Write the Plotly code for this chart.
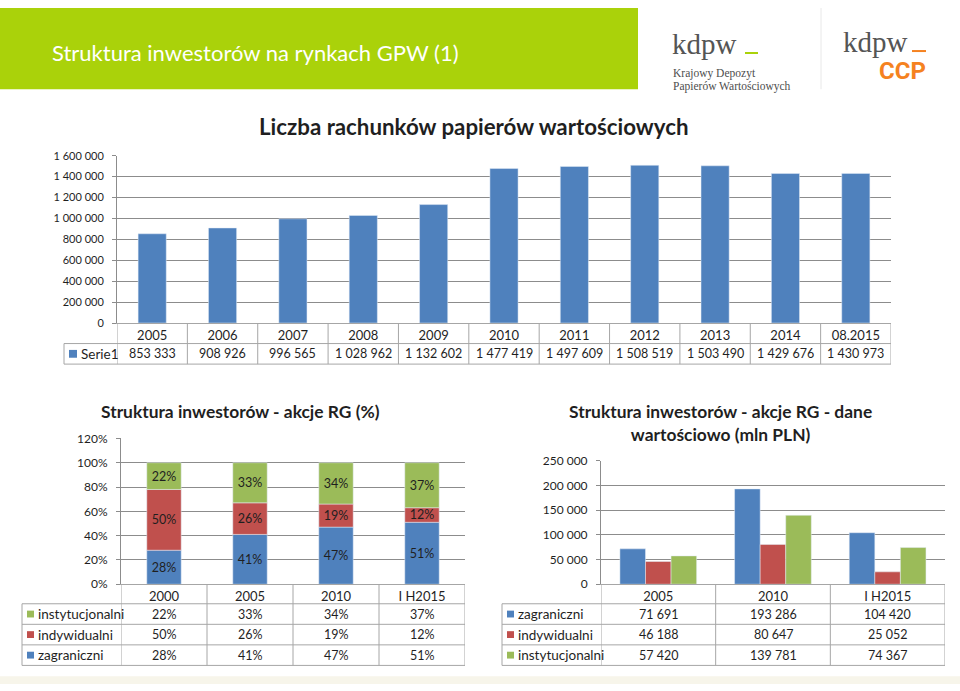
import plotly.graph_objects as go

W, H = 960, 691


def px(x):
    return x / W


def py(y):
    return 1 - y / H


BLUE = '#4F81BD'
RED = '#C0504D'
GREEN = '#9BBB59'
GRID = '#8C8C8C'
BORDER = '#A6A6A6'
TXT = '#1F1F1F'
FONT = 'Lato, Carlito, Calibri, sans-serif'

# Liczba rachunków papierów wartościowych
years = ['2005', '2006', '2007', '2008', '2009', '2010', '2011', '2012', '2013', '2014', '08.2015']
accounts = [853333, 908926, 996565, 1028962, 1132602, 1477419, 1497609, 1508519, 1503490, 1429676, 1430973]

# Struktura inwestorów - akcje RG (%)
rg_years = ['2000', '2005', '2010', 'I H2015']
rg_inst = [22, 33, 34, 37]
rg_ind = [50, 26, 19, 12]
rg_zag = [28, 41, 47, 51]

# Struktura inwestorów - akcje RG - dane wartościowo (mln PLN)
val_years = ['2005', '2010', 'I H2015']
val_zag = [71691, 193286, 104420]
val_ind = [46188, 80647, 25052]
val_inst = [57420, 139781, 74367]


def num(v):
    return f'{v:,}'.replace(',', ' ')


fig = go.Figure()

# top chart
fig.add_trace(go.Bar(x=years, y=accounts, marker_color=BLUE, width=0.4,
                     xaxis='x', yaxis='y', name='Serie1'))

# stacked percent chart
base_ind = list(rg_zag)
base_inst = [a + b for a, b in zip(rg_zag, rg_ind)]
for vals, base, col in [(rg_zag, [0] * 4, BLUE), (rg_ind, base_ind, RED), (rg_inst, base_inst, GREEN)]:
    fig.add_trace(go.Bar(x=rg_years, y=vals, base=base, marker_color=col, width=0.4,
                         text=[f'{v}%' for v in vals], textposition='inside',
                         insidetextanchor='middle', textangle=0, constraintext='none',
                         textfont=dict(size=12.5, color=TXT, family=FONT),
                         xaxis='x2', yaxis='y2'))

# grouped value chart
for vals, off, col in [(val_zag, -0.335, BLUE), (val_ind, -0.112, RED), (val_inst, 0.111, GREEN)]:
    fig.add_trace(go.Bar(x=val_years, y=vals, marker_color=col, width=0.223, offset=off,
                         xaxis='x3', yaxis='y3'))

shapes = []
annotations = []


def hline(y, x0, x1, color=BORDER, width=1):
    shapes.append(dict(type='line', xref='paper', yref='paper', x0=px(x0), x1=px(x1),
                       y0=py(y), y1=py(y), line=dict(color=color, width=width)))


def vline_data(xref, x, y0, y1):
    shapes.append(dict(type='line', xref=xref, yref='paper', x0=x, x1=x,
                       y0=py(y0), y1=py(y1), line=dict(color=BORDER, width=1)))


def vline(x, y0, y1, color=BORDER):
    shapes.append(dict(type='line', xref='paper', yref='paper', x0=px(x), x1=px(x),
                       y0=py(y0), y1=py(y1), line=dict(color=color, width=1)))


def legend_cell(x, y, color, label, sq=7):
    shapes.append(dict(type='rect', xref='paper', yref='paper', x0=px(x), x1=px(x + sq),
                       y0=py(y + sq / 2), y1=py(y - sq / 2), fillcolor=color, line_width=0))
    annotations.append(dict(x=px(x + sq + 2), y=py(y), xref='paper', yref='paper', text=label,
                            showarrow=False, xanchor='left', yanchor='middle',
                            font=dict(size=13.5, color=TXT, family=FONT)))


def cell_text(xref, i, y, text):
    annotations.append(dict(x=i, y=py(y), xref=xref, yref='paper', text=text, showarrow=False,
                            xanchor='center', yanchor='middle',
                            font=dict(size=12.5, color=TXT, family=FONT)))


# top table
for y in [343, 364]:
    hline(y, 64, 891)
vline(64, 343, 364)
for k in range(len(years) + 1):
    vline_data('x', k - 0.5, 322, 364)
legend_cell(69, 353.5, BLUE, 'Serie1', sq=8)
for i, v in enumerate(accounts):
    cell_text('x', i, 353.5, num(v))

# bottom-left table
rows = [609, 630, 651, 672]
for y in rows:
    hline(y, 22, 465)
vline(22, 609, 672)
for k in range(len(rg_years) + 1):
    vline_data('x2', k - 0.5, 589, 672)
for r, (lab, col, vals) in enumerate([('instytucjonalni', GREEN, rg_inst),
                                      ('indywidualni', RED, rg_ind),
                                      ('zagraniczni', BLUE, rg_zag)]):
    yc = (rows[r] + rows[r + 1]) / 2
    legend_cell(27, yc, col, lab)
    for i, v in enumerate(vals):
        cell_text('x2', i, yc, f'{v}%')

# bottom-right table
for y in rows:
    hline(y, 502, 945)
vline(502, 609, 672)
for k in range(len(val_years) + 1):
    vline_data('x3', k - 0.5, 589, 672)
for r, (lab, col, vals) in enumerate([('zagraniczni', BLUE, val_zag),
                                      ('indywidualni', RED, val_ind),
                                      ('instytucjonalni', GREEN, val_inst)]):
    yc = (rows[r] + rows[r + 1]) / 2
    legend_cell(507, yc, col, lab)
    for i, v in enumerate(vals):
        cell_text('x3', i, yc, num(v))

# header band and decorations
shapes.append(dict(type='rect', xref='paper', yref='paper', x0=0, x1=px(638), y0=py(83), y1=1,
                   fillcolor='#AAD20A', line_width=0, layer='below'))
shapes.append(dict(type='rect', xref='paper', yref='paper', x0=0, x1=1, y0=0, y1=py(683),
                   fillcolor='#F7F5EA', line_width=0, layer='below'))
vline(821, 0, 83, color='#E8E8E8')
# logo underscores
hline(46, 745, 758, color='#AAD20A', width=2)
hline(44, 912, 926, color='#F58220', width=2)

texts = [
    dict(x=px(50), y=py(45), text='Struktura inwestorów na rynkach GPW (1)', xanchor='left',
         font=dict(size=22, color='white', family=FONT)),
    dict(x=px(670), y=py(37), text='kdpw', xanchor='left',
         font=dict(size=29, color='#555555', family='Liberation Serif, serif')),
    dict(x=px(671), y=py(67), text='Krajowy Depozyt', xanchor='left',
         font=dict(size=11.5, color='#4D4D4D', family='Liberation Serif, serif')),
    dict(x=px(671), y=py(80), text='Papierów Wartościowych', xanchor='left',
         font=dict(size=11.5, color='#4D4D4D', family='Liberation Serif, serif')),
    dict(x=px(841), y=py(35), text='kdpw', xanchor='left',
         font=dict(size=29, color='#555555', family='Liberation Serif, serif')),
    dict(x=px(928), y=py(64), text='<b>CCP</b>', xanchor='right',
         font=dict(size=24, color='#F58220', family='Roboto, sans-serif')),
    dict(x=px(473), y=py(121), text='<b>Liczba rachunków papierów wartościowych</b>',
         font=dict(size=22.3, color=TXT, family=FONT)),
    dict(x=px(240), y=py(412), text='<b>Struktura inwestorów - akcje RG (%)</b>',
         font=dict(size=17.4, color=TXT, family=FONT)),
    dict(x=px(720), y=py(424), text='<b>Struktura inwestorów - akcje RG - dane<br>wartościowo (mln PLN)</b>',
         font=dict(size=17.4, color=TXT, family=FONT)),
]
for a in texts:
    a.update(xref='paper', yref='paper', showarrow=False, yanchor='middle')
    a.setdefault('xanchor', 'center')
annotations += texts

xcommon = dict(type='category', showline=True, linecolor=BORDER, ticks='', showgrid=False,
               tickfont=dict(size=13, color=TXT, family=FONT), fixedrange=True)
ycommon = dict(showgrid=True, gridcolor=GRID, showline=True, linecolor=GRID, zeroline=False,
               ticks='outside', ticklen=4, tickcolor=GRID, ticklabelstandoff=6,
               tickfont=dict(size=12, color=TXT, family=FONT))

fig.update_layout(
    width=W, height=H,
    margin=dict(l=0, r=0, t=0, b=0),
    paper_bgcolor='white', plot_bgcolor='white',
    barmode='overlay', showlegend=False,
    separators=', ',
    xaxis=dict(xcommon, domain=[px(117), px(891)], anchor='y', range=[-0.5, 10.5]),
    yaxis=dict(ycommon, domain=[py(322), py(151)], anchor='x', range=[0, 1600000], dtick=200000,
               tickformat=',d', tickfont=dict(size=11, color=TXT, family=FONT)),
    xaxis2=dict(xcommon, domain=[px(121), px(465)], anchor='y2', range=[-0.5, 3.5]),
    yaxis2=dict(ycommon, domain=[py(589), py(440)], anchor='x2', range=[0, 120], dtick=20,
                ticksuffix='%'),
    xaxis3=dict(xcommon, domain=[px(601), px(945)], anchor='y3', range=[-0.5, 2.5]),
    yaxis3=dict(ycommon, domain=[py(589), py(463)], anchor='x3', range=[0, 250000], dtick=50000,
                tickformat=',d'),
    shapes=shapes,
    annotations=annotations,
)

# pin the plot to the top-left corner of the page (no default body margin)
fig.write_html('out.html', config={'displayModeBar': False}, post_script=(
    "var d=document.getElementById('{plot_id}');"
    "document.body.style.margin='0';"
    "d.style.position='fixed';d.style.left='0px';d.style.top='0px';"
))
